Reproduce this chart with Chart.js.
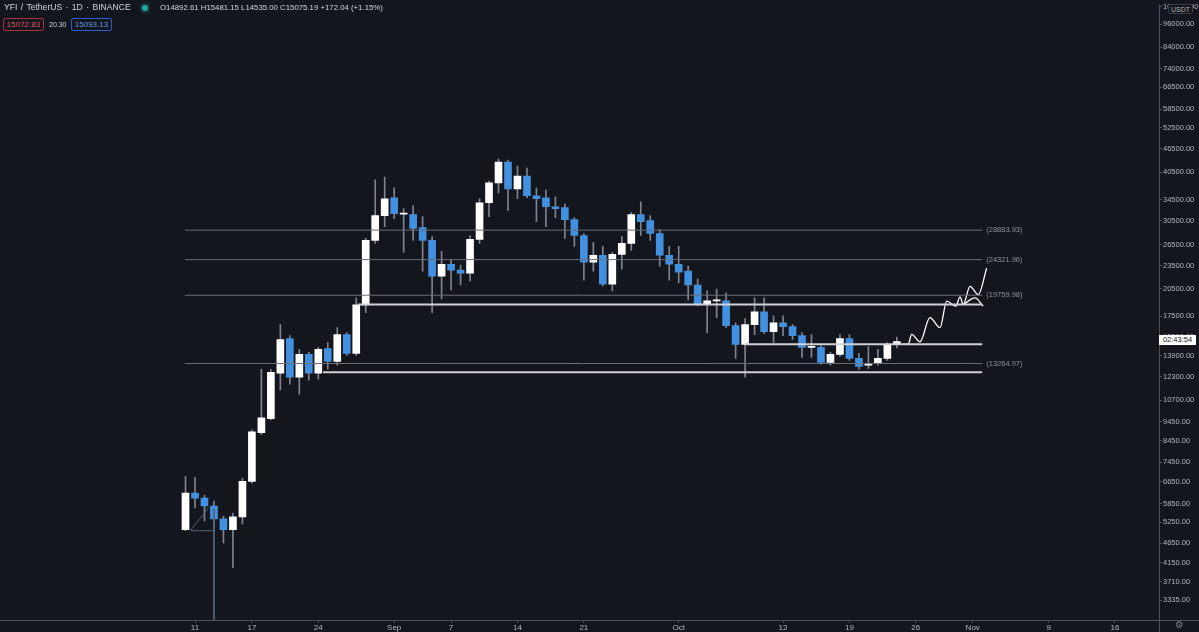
<!DOCTYPE html>
<html>
<head>
<meta charset="utf-8">
<title>YFI / TetherUS 1D</title>
<script src="https://cdn.jsdelivr.net/npm/chart.js@4.4.1/dist/chart.umd.min.js"></script>
<style>
  html, body { margin: 0; padding: 0; background: #14161d; }
  #wrap { position: relative; width: 1199px; height: 632px; overflow: hidden; background: #14161d; }
  #chart { position: absolute; left: 0; top: 0; }
  .txt { position: absolute; font-family: "Liberation Sans", Arial, sans-serif; white-space: nowrap; line-height: 1; }
  #title { left: 4px; top: 3px; font-size: 8.6px; color: #d1d4dc; word-spacing: 1px; }
  #dot { position: absolute; left: 142px; top: 5px; width: 6px; height: 6px; border-radius: 50%; background: #26a69a; box-shadow: 0 0 3px 2px rgba(38,166,154,0.3); }
  #ohlc { left: 160px; top: 4px; font-size: 7.8px; color: #d1d4dc; }
  .box { position: absolute; top: 18px; height: 13px; font-size: 8px; line-height: 12px; text-align: center; border: 1px solid; border-radius: 2px; box-sizing: border-box; }
  #bid { left: 3px; width: 41px; color: #e5535e; border-color: #a8323c; }
  #spread { left: 49px; top: 21px; font-size: 7px; color: #d1d4dc; }
  #ask { left: 71px; width: 41px; color: #5b9cf6; border-color: #2a5bd0; }
  #unit { left: 1168px; top: 4px; width: 25px; height: 10px; font-size: 7px; line-height: 9px; text-align: center; color: #b2b5be; background: #14161d; border: 1px solid #3a3d46; border-radius: 2px; box-sizing: border-box; }
  #timer { left: 1159px; top: 335px; width: 37px; height: 10px; font-size: 7.5px; line-height: 10px; text-align: center; color: #131722; background: #ffffff; }
  #gear { left: 1175px; top: 620px; font-family: "DejaVu Sans", sans-serif; font-size: 10px; color: #787b86; }
</style>
</head>
<body>
<div id="wrap">
  <canvas id="chart" width="1199" height="632"></canvas>
  <div class="txt" id="title">YFI / TetherUS · 1D · BINANCE</div>
  <div id="dot"></div>
  <div class="txt" id="ohlc">O14892.61 H15481.15 L14535.00 C15075.19 +172.04 (+1.15%)</div>
  <div class="txt box" id="bid">15072.83</div>
  <div class="txt" id="spread">20.30</div>
  <div class="txt box" id="ask">15093.13</div>
  <div class="txt" id="unit">USDT</div>
  <div class="txt" id="timer">02:43:54</div>
  <div class="txt" id="gear">⚙</div>
</div>
<script>
// daily candles, 2020-08-10 .. 2020-10-24 (index 0 = Aug 10)
const opens = [5030, 6230, 6050, 5775, 5360, 5030, 5420, 6670, 8860, 9610,
  12530, 15350, 12250, 13990, 12530, 14480, 13430, 15700, 14070, 18680,
  27210, 31440, 34890, 31700, 31620, 29330, 27210, 22090, 23680, 22870,
  22480, 27370, 33900, 38050, 42970, 36750, 39620, 35300, 34890, 33120,
  32930, 30720, 28000, 23960, 24950, 21090, 25090, 26740, 31620, 30540,
  28330, 24950, 23680, 22740, 20970, 18790, 19120, 19120, 16545, 14820,
  16640, 17940, 15980, 16830, 16450, 15610, 14570, 14590, 13360, 13990,
  15350, 13670, 13130, 13280, 13670, 14892.61];
const highs = [6870, 6830, 6150, 5944, 5450, 5545, 6790, 9015, 12830, 12830,
  16640, 15610, 14400, 14150, 14570, 15000, 16350, 15890, 19450, 27530,
  38720, 39400, 36970, 32740, 33310, 31260, 27840, 25530, 24380, 23545,
  28000, 34690, 38490, 43720, 43470, 41980, 41500, 36970, 36540, 35090,
  33700, 31080, 28330, 26890, 26280, 25380, 27840, 31990, 34090, 31440,
  29000, 26280, 26280, 23410, 21710, 20260, 20490, 20020, 16830, 17230,
  19450, 19450, 17530, 17530, 16640, 15890, 15700, 14740, 14150, 15700,
  15700, 14070, 14650, 14400, 15000, 15481.15];
const lows = [5000, 5710, 5295, 5100, 4660, 4030, 5200, 6596, 8760, 9550,
  11360, 11760, 11100, 12040, 12110, 12830, 13130, 13910, 13910, 17840,
  26740, 29500, 30900, 25380, 27210, 22740, 17840, 19340, 20370, 20970,
  21460, 26740, 31260, 35900, 32360, 34690, 34890, 30370, 29500, 31080,
  27530, 26280, 21590, 22740, 20850, 20260, 23010, 25680, 28000, 27210,
  23410, 21590, 21220, 19230, 18570, 15890, 17330, 16350, 13670, 12250,
  15700, 15800, 15000, 15610, 15260, 13750, 13750, 13200, 13130, 13830,
  13510, 12830, 12900, 13130, 13510, 14535.00];
const closes = [6230, 6050, 5775, 5360, 5030, 5420, 6670, 8910, 9660, 12600,
  15260, 12250, 13990, 12530, 14400, 13430, 15700, 14070, 18680, 27210,
  31440, 34690, 31800, 31900, 29160, 27210, 22090, 23680, 22870, 22480,
  27370, 33900, 38050, 42970, 36750, 39620, 35300, 34690, 33120, 32740,
  30720, 28000, 23960, 24950, 21090, 25090, 26740, 31620, 30370, 28330,
  24950, 23680, 22610, 20970, 18790, 19120, 19140, 16545, 14820, 16640,
  17940, 15980, 16830, 16450, 15610, 14570, 14590, 13360, 13990, 15350,
  13670, 13050, 13280, 13670, 14820, 15075.19];

// time axis: day index and label
const tickDays = [1, 7, 14, 22, 28, 35, 42, 52, 63, 70, 77, 83, 91, 98];
const tickNames = ['11', '17', '24', 'Sep', '7', '14', '21', 'Oct', '12', '19', '26', 'Nov', '9', '16'];

// price axis ticks
const priceTicks = [106500, 96000, 84000, 74000, 66500, 58500, 52500, 46500, 40500, 34500,
  30500, 26500, 23500, 20500, 17500, 15500, 13900, 12300, 10700, 9450, 8450, 7450,
  6650, 5850, 5250, 4650, 4150, 3710, 3335];

// drawn levels
const levelPrices = [28883.93, 24321.96, 19759.98, 13264.97];
const zonePrices = [18720, 14850, 12600];
const zoneStart = [18.2, 59, 14.5];
const levelStart = -0.05;
const levelEnd = 84;

// hand drawn projection (day index, price)
const pathDays = [75.6, 76.2, 76.56, 77.44, 78.49, 79.55, 80.26, 81.23, 81.66, 82.0, 82.71, 83.58, 84.47];
const pathPrices = [14850, 14850, 15730, 15060, 17330, 16350, 19090, 18540, 19570, 18710, 20810, 19830, 23140];
const branchDays = [82.0, 83.24, 84.11];
const branchPrices = [18710, 19450, 18540];

// small sketch near the listing candles
const sketchDays = [0.55, 2.4];
const sketchPrices = [5020, 5700];
const baseDays = [0.55, 3.11];
const basePrices = [5000, 5000];
const dropDays = [3.0, 3.0];
const dropPrices = [5700, 2800];

const UP = '#ffffff';
const DOWN = '#4290e0';
const WICK = '#7f8290';
const THIN = '#6b6e78';
const THICK = '#cfd1d6';
const AXIS = '#50535e';
const TXT = '#b2b5be';
const FONT = '"Liberation Sans", Arial, sans-serif';

const idx = opens.map((_, i) => i);
const pts = (xs, ys) => xs.map((x, i) => ({ x: x, y: ys[i] }));

const lineSet = (data, color, width, extra) => Object.assign({
  type: 'line', data: data, borderColor: color, borderWidth: width,
  pointRadius: 0, fill: false, order: 0
}, extra || {});

const datasets = [
  {
    type: 'bar', order: 2, grouped: false, barThickness: 1,
    data: idx.map(i => ({ x: i, y: [lows[i], highs[i]] })),
    backgroundColor: WICK, borderWidth: 0
  },
  {
    type: 'bar', order: 1, grouped: false, barThickness: 7, minBarLength: 1,
    data: idx.map(i => ({ x: i, y: [opens[i], closes[i]] })),
    backgroundColor: idx.map(i => closes[i] >= opens[i] ? UP : DOWN), borderWidth: 0
  }
];
levelPrices.forEach(p => datasets.push(lineSet(pts([levelStart, levelEnd], [p, p]), THIN, 1)));
zonePrices.forEach((p, i) => datasets.push(lineSet(pts([zoneStart[i], levelEnd], [p, p]), THICK, 2)));
datasets.push(lineSet(pts(pathDays, pathPrices), '#ffffff', 1.3, { cubicInterpolationMode: 'monotone' }));
datasets.push(lineSet(pts(branchDays, branchPrices), '#ffffff', 1.3, { cubicInterpolationMode: 'monotone' }));
datasets.push(lineSet(pts(sketchDays, sketchPrices), '#56647c', 1));
datasets.push(lineSet(pts(baseDays, basePrices), '#56647c', 1));
datasets.push(lineSet(pts(dropDays, dropPrices), '#56647c', 1));

// labels of the levels + axis frame extensions
const extras = {
  id: 'extras',
  afterDraw(chart) {
    const { ctx, scales: { x, y }, chartArea } = chart;
    ctx.save();
    ctx.font = '7.5px ' + FONT;
    ctx.fillStyle = '#8e9199';
    ctx.textBaseline = 'middle';
    levelPrices.forEach(p => {
      ctx.fillText('(' + p.toFixed(2) + ')', x.getPixelForValue(levelEnd) + 4, y.getPixelForValue(p));
    });
    ctx.strokeStyle = AXIS;
    ctx.lineWidth = 1;
    ctx.beginPath();
    ctx.moveTo(chartArea.right, chartArea.bottom + 0.5);
    ctx.lineTo(chart.width, chartArea.bottom + 0.5);
    ctx.moveTo(chartArea.right + 0.5, chartArea.bottom);
    ctx.lineTo(chartArea.right + 0.5, chart.height);
    ctx.stroke();
    ctx.restore();
  }
};

new Chart(document.getElementById('chart'), {
  type: 'bar',
  data: { datasets: datasets },
  options: {
    responsive: false,
    animation: false,
    events: [],
    layout: { padding: 0, autoPadding: false },
    plugins: { legend: { display: false }, tooltip: { enabled: false } },
    scales: {
      x: {
        type: 'linear', min: -19.56, max: 102.64, offset: false, bounds: 'data',
        afterFit(s) { s.height = 12; },
        afterBuildTicks(s) { s.ticks = tickDays.map(v => ({ value: v })); },
        grid: { offset: false, drawOnChartArea: false, drawTicks: true, tickLength: 3, tickColor: AXIS },
        border: { color: AXIS },
        ticks: {
          autoSkip: false, maxRotation: 0, padding: 0, color: TXT,
          font: { family: FONT, size: 8 },
          callback: v => tickNames[tickDays.indexOf(v)]
        }
      },
      y: {
        type: 'logarithmic', position: 'right', min: 2970, max: 107150, bounds: 'data',
        afterFit(s) { s.width = 40; },
        afterBuildTicks(s) { s.ticks = priceTicks.map(v => ({ value: v })); },
        grid: { offset: false, drawOnChartArea: false, drawTicks: true, tickLength: 3, tickColor: AXIS },
        border: { color: AXIS },
        ticks: {
          autoSkip: false, padding: 1, color: TXT,
          font: { family: FONT, size: 7.5 },
          callback: v => Number(v).toFixed(2)
        }
      }
    }
  },
  plugins: [extras]
});
</script>
</body>
</html>
